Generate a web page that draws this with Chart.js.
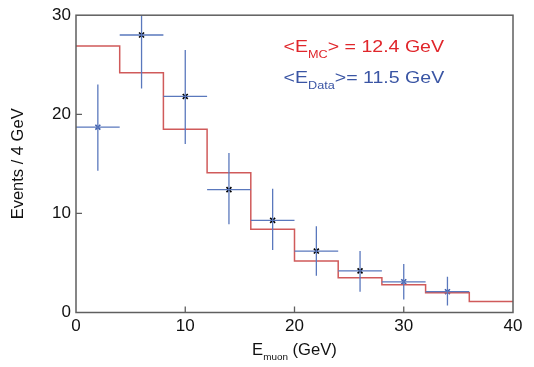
<!DOCTYPE html>
<html><head><meta charset="utf-8">
<script src="https://cdn.jsdelivr.net/npm/chart.js@4"></script>
<style>html,body{margin:0;padding:0;background:#fff}</style>
</head><body>
<canvas id="c" width="534" height="367"></canvas>
<script>
// ---- data ----
const binEdges = [0, 4, 8, 12, 16, 20, 24, 28, 32, 36, 40];
const mcValues = [26.9, 24.2, 18.5, 14.1, 8.4, 5.2, 3.5, 2.8, 2.0, 1.1];
const dataX = [2, 6, 10, 14, 18, 22, 26, 30, 34];
const dataY = [18.7, 28.0, 21.8, 12.4, 9.3, 6.2, 4.2, 3.1, 2.1];
const dataLow = [14.3, 22.6, 17.0, 8.9, 6.3, 3.7, 2.1, 1.3, 0.7];
const dataHigh = [23.0, 31.0, 26.5, 16.1, 12.5, 8.7, 6.2, 4.9, 3.6];
const dataXHalfWidth = [2, 2, 2, 2, 2, 2, 2, 2, 2];
const markerKinds = ['blue', 'black', 'black', 'black', 'black', 'black', 'black', 'blue', 'blue'];
const xTickValues = [0, 10, 20, 30, 40];
const yTickValues = [0, 10, 20, 30];
const mcLabel = ['<E', 'MC', '> = 12.4 GeV'];
const dataLabel = ['<E', 'Data', '>= 11.5 GeV'];
const xTitle = ['E', 'muon', ' (GeV)'];
const yTitle = 'Events / 4 GeV';

// ---- styles ----
const FONT = '"Liberation Sans", Arial, Helvetica, sans-serif';
const RED_LINE = '#d05a5a';
const ERR_BLUE = '#5a78bd';
const MARK_BLUE = '#3f5fae';
const TXT_RED = '#e0262b';
const TXT_BLUE = '#3a55a4';
const FRAME = '#5f5f5f';

const mcPoints = binEdges.map((x, i) => ({x: x, y: mcValues[Math.min(i, mcValues.length - 1)]}));
const markerColors = markerKinds.map(k => k === 'black' ? '#000' : MARK_BLUE);

function drawSubText(ctx, x, y, parts, size, subSize, color, stretch) {
  ctx.save();
  ctx.translate(x, y);
  ctx.scale(stretch, 1);
  ctx.fillStyle = color;
  ctx.textBaseline = 'alphabetic';
  ctx.textAlign = 'left';
  let cx = 0;
  parts.forEach((t, i) => {
    const sub = i === 1;
    ctx.font = (sub ? subSize : size) + 'px ' + FONT;
    ctx.fillText(t, cx, sub ? subSize * 0.55 : 0);
    cx += ctx.measureText(t).width;
  });
  ctx.restore();
}
function subTextWidth(ctx, parts, size, subSize) {
  let w = 0;
  parts.forEach((t, i) => {
    ctx.font = (i === 1 ? subSize : size) + 'px ' + FONT;
    w += ctx.measureText(t).width;
  });
  return w;
}

const decor = {
  id: 'decor',
  afterDatasetDraw(chart, args) {
    if (args.index !== 0) return;
    const ctx = chart.ctx, xs = chart.scales.x, ys = chart.scales.y, a = chart.chartArea;
    ctx.save();
    ctx.beginPath();
    ctx.rect(a.left, a.top, a.right - a.left, a.bottom - a.top);
    ctx.clip();
    ctx.strokeStyle = ERR_BLUE;
    ctx.lineWidth = 1.3;
    dataX.forEach((x, i) => {
      const px = xs.getPixelForValue(x), py = ys.getPixelForValue(dataY[i]);
      ctx.beginPath();
      ctx.moveTo(px, ys.getPixelForValue(dataLow[i]));
      ctx.lineTo(px, ys.getPixelForValue(dataHigh[i]));
      ctx.moveTo(xs.getPixelForValue(x - dataXHalfWidth[i]), py);
      ctx.lineTo(xs.getPixelForValue(x + dataXHalfWidth[i]), py);
      ctx.stroke();
    });
    ctx.restore();
  },
  afterDraw(chart) {
    const ctx = chart.ctx, xs = chart.scales.x, ys = chart.scales.y, a = chart.chartArea;
    ctx.save();
    ctx.strokeStyle = FRAME;
    ctx.lineWidth = 1.5;
    ctx.strokeRect(a.left, a.top, a.right - a.left, a.bottom - a.top);
    ctx.lineWidth = 1.3;
    ctx.beginPath();
    yTickValues.slice(1, -1).forEach(v => {
      const py = ys.getPixelForValue(v);
      ctx.moveTo(a.left, py); ctx.lineTo(a.left + 6, py);
    });
    xTickValues.slice(1, -1).forEach(v => {
      const px = xs.getPixelForValue(v);
      ctx.moveTo(px, a.bottom); ctx.lineTo(px, a.bottom - 6);
    });
    ctx.stroke();
    ctx.restore();
    drawSubText(ctx, xs.getPixelForValue(19), ys.getPixelForValue(26.25), mcLabel, 17, 11, TXT_RED, 1.15);
    drawSubText(ctx, xs.getPixelForValue(19), ys.getPixelForValue(23.15), dataLabel, 17, 11, TXT_BLUE, 1.15);
    const st = 1.04;
    const w = subTextWidth(ctx, xTitle, 16, 9.5) * st;
    drawSubText(ctx, (a.left + a.right) / 2 - w / 2, 355, xTitle, 16, 9.5, '#111', st);
  }
};

new Chart(document.getElementById('c'), {
  type: 'scatter',
  data: {
    datasets: [
      {
        type: 'line',
        data: mcPoints,
        stepped: true,
        borderColor: RED_LINE,
        borderWidth: 1.5,
        pointRadius: 0,
        fill: false,
        clip: false
      },
      {
        data: dataX.map((x, i) => ({x: x, y: dataY[i]})),
        pointStyle: 'crossRot',
        pointRadius: 3.5,
        pointBorderWidth: 1.6,
        pointBorderColor: markerColors,
        pointBackgroundColor: markerColors
      }
    ]
  },
  options: {
    responsive: false,
    animation: false,
    devicePixelRatio: 1,
    layout: {padding: {top: 15, right: 21, left: 0, bottom: 0}},
    plugins: {legend: {display: false}, tooltip: {enabled: false}},
    scales: {
      x: {
        type: 'linear', min: 0, max: 40,
        afterBuildTicks: s => { s.ticks = xTickValues.map(v => ({value: v})); },
        afterFit: s => { s.height = 54.5; },
        grid: {display: false, drawTicks: false},
        border: {display: false},
        ticks: {padding: 4, maxRotation: 0, color: '#111', font: {family: FONT, size: 17}}
      },
      y: {
        type: 'linear', min: 0, max: 30,
        afterBuildTicks: s => { s.ticks = yTickValues.map(v => ({value: v})); },
        afterFit: s => { s.width = 76; },
        grid: {display: false, drawTicks: false},
        border: {display: false},
        ticks: {padding: 5, color: '#111', font: {family: FONT, size: 17}},
        title: {display: true, text: yTitle, color: '#111', font: {family: FONT, size: 16.5}, padding: {top: 9, bottom: 0}}
      }
    }
  },
  plugins: [decor]
});
</script>
</body></html>
